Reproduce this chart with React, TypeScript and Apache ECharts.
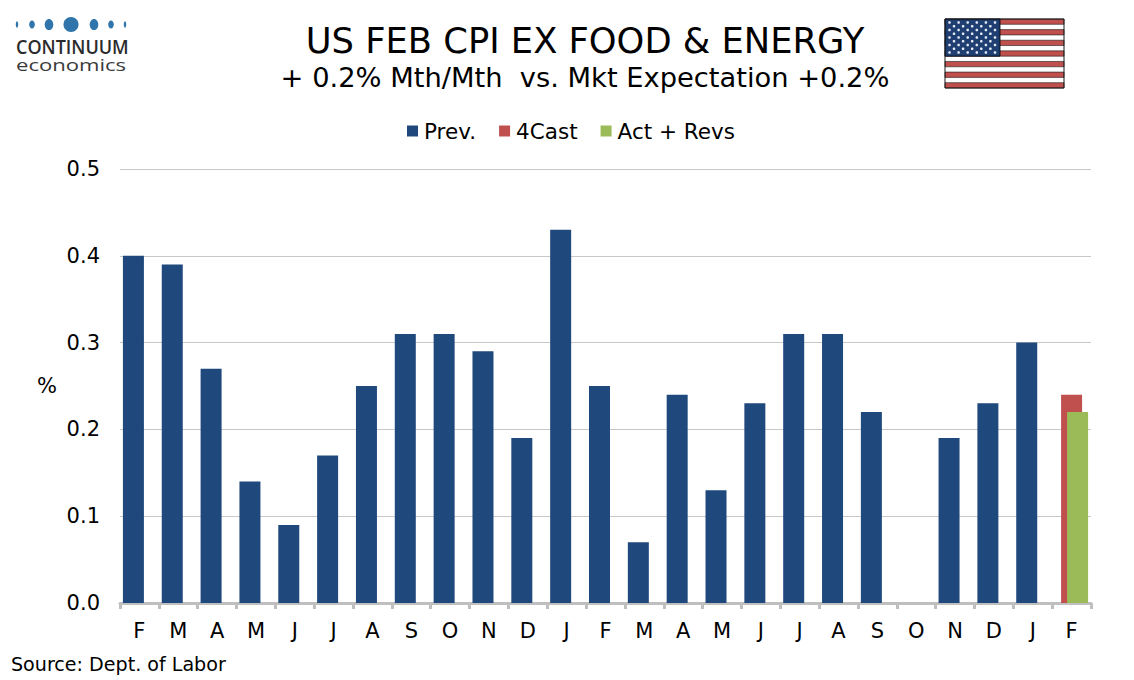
import React, { useEffect, useRef } from "react";
import * as echarts from "echarts";

const categories = ["F","M","A","M","J","J","A","S","O","N","D","J","F","M","A","M","J","J","A","S","O","N","D","J","F"];
const prev = [0.40,0.39,0.27,0.14,0.09,0.17,0.25,0.31,0.31,0.29,0.19,0.43,0.25,0.07,0.24,0.13,0.23,0.31,0.31,0.22,null,0.19,0.23,0.30,null];
const forecast = [...Array(24).fill(null), 0.24];
const actual = [...Array(24).fill(null), 0.22];
const yTickStep = 0.1;
const FONT = "'DejaVu Sans', Verdana, sans-serif";

function logo(): any[] {
  const dots = [[17,1.2,3.2],[32,2.8,4],[49,4.3,5.6],[71,7.5,7.5],[94,4.3,5.6],[111,2.8,4],[125,1.2,3.2]];
  return [
    ...dots.map(([x,rx,ry]) => ({ type: "ellipse", shape: { cx: x, cy: 24.5, rx, ry }, style: { fill: "#2f75ab" } })),
    { type: "text", x: 16, y: 47, scaleX: 0.9, style: { text: "CONTINUUM", font: "600 20px 'Open Sans', sans-serif", fill: "#2b2b2b", textVerticalAlign: "middle" } },
    { type: "text", x: 16, y: 65, scaleX: 1.38, style: { text: "economics", font: "16px 'Open Sans', sans-serif", fill: "#3a3a3a", textVerticalAlign: "middle" } },
  ];
}

function flag(): any[] {
  const x0 = 945, y0 = 19, w = 119, sh = 69 / 13, cw = 55, ch = sh * 7;
  const out: any[] = [];
  out.push({ type: "rect", shape: { x: x0, y: y0, width: w, height: 69 }, style: { fill: "#ffffff" } });
  for (let i = 0; i < 13; i += 2) {
    out.push({ type: "rect", shape: { x: x0, y: y0 + i * sh, width: w, height: sh }, style: { fill: "#c0504d", stroke: "#1a1a1a", lineWidth: 0.6 } });
  }
  out.push({ type: "rect", shape: { x: x0, y: y0, width: cw, height: ch }, style: { fill: "#1f3f73", stroke: "#000000", lineWidth: 0.8 } });
  for (let r = 0; r < 9; r++) {
    const n = r % 2 === 0 ? 6 : 5;
    for (let c = 0; c < n; c++) {
      out.push({
        type: "circle",
        shape: { cx: x0 + 4.5 + (r % 2 ? 4.5 : 0) + c * 9.1, cy: y0 + 3.5 + r * 3.75, r: 1.3 },
        style: { fill: "#e8edf5" },
      });
    }
  }
  out.push({ type: "rect", shape: { x: x0, y: y0, width: w, height: 69 }, style: { fill: "none", stroke: "#1a1a1a", lineWidth: 1 } });
  return out;
}

export default function App() {
  const ref = useRef<HTMLDivElement>(null);
  useEffect(() => {
    document.body.style.margin = "0";
    const chart = echarts.init(ref.current!, undefined, { renderer: "svg" });
    const barBase = { type: "bar", barWidth: 21, barGap: "-71.4%" };
    chart.setOption({
      animation: false,
      backgroundColor: "#ffffff",
      textStyle: { fontFamily: FONT },
      title: {
        text: "US FEB CPI EX FOOD & ENERGY",
        subtext: "+ 0.2% Mth/Mth  vs. Mkt Expectation +0.2%",
        left: 580, top: 18, textAlign: "center",
        textStyle: { fontFamily: FONT, fontSize: 35.3, fontWeight: "normal", color: "#000000" },
        subtextStyle: { fontFamily: FONT, fontSize: 27.3, color: "#000000" },
        itemGap: 5.5,
      },
      legend: {
        left: 402, top: 115, itemWidth: 11, itemHeight: 11, itemGap: 23,
        icon: "rect",
        textStyle: { fontFamily: FONT, fontSize: 21.5, color: "#000000", padding: [0, 0, 0, 1] },
        data: ["Prev.", "4Cast", "Act + Revs"],
      },
      grid: { left: 120, right: 43, top: 169, bottom: 77 },
      xAxis: {
        type: "category",
        data: categories,
        axisLine: { lineStyle: { color: "#bfbfbf", width: 3 } },
        axisTick: { show: true, length: 6, lineStyle: { color: "#bfbfbf", width: 3 } },
        axisLabel: { fontFamily: FONT, fontSize: 21, color: "#000000", margin: 17, interval: 0 },
      },
      yAxis: {
        type: "value",
        min: 0, max: 0.5, interval: yTickStep,
        name: "%",
        nameLocation: "middle",
        nameRotate: 0,
        nameGap: 63,
        nameTextStyle: { fontFamily: FONT, fontSize: 21, color: "#000000" },
        axisLine: { show: false },
        axisTick: { show: false },
        splitLine: { lineStyle: { color: "#c8c8c8", width: 1 } },
        axisLabel: { fontFamily: FONT, fontSize: 21, color: "#000000", margin: 20, formatter: (v: number) => v.toFixed(1) },
      },
      series: [
        { ...barBase, name: "Prev.", data: prev, itemStyle: { color: "#1f497d" } },
        { ...barBase, name: "4Cast", data: forecast, itemStyle: { color: "#c0504d" } },
        { ...barBase, name: "Act + Revs", data: actual, itemStyle: { color: "#9bbb59" } },
      ],
      graphic: [
        ...logo(),
        ...flag(),
        { type: "text", x: 11, y: 664, style: { text: "Source: Dept. of Labor", font: `19.1px ${FONT}`, fill: "#000000", textVerticalAlign: "middle" } },
      ],
    });
    return () => chart.dispose();
  }, []);
  return <div ref={ref} style={{ width: 1134, height: 680 }} />;
}
